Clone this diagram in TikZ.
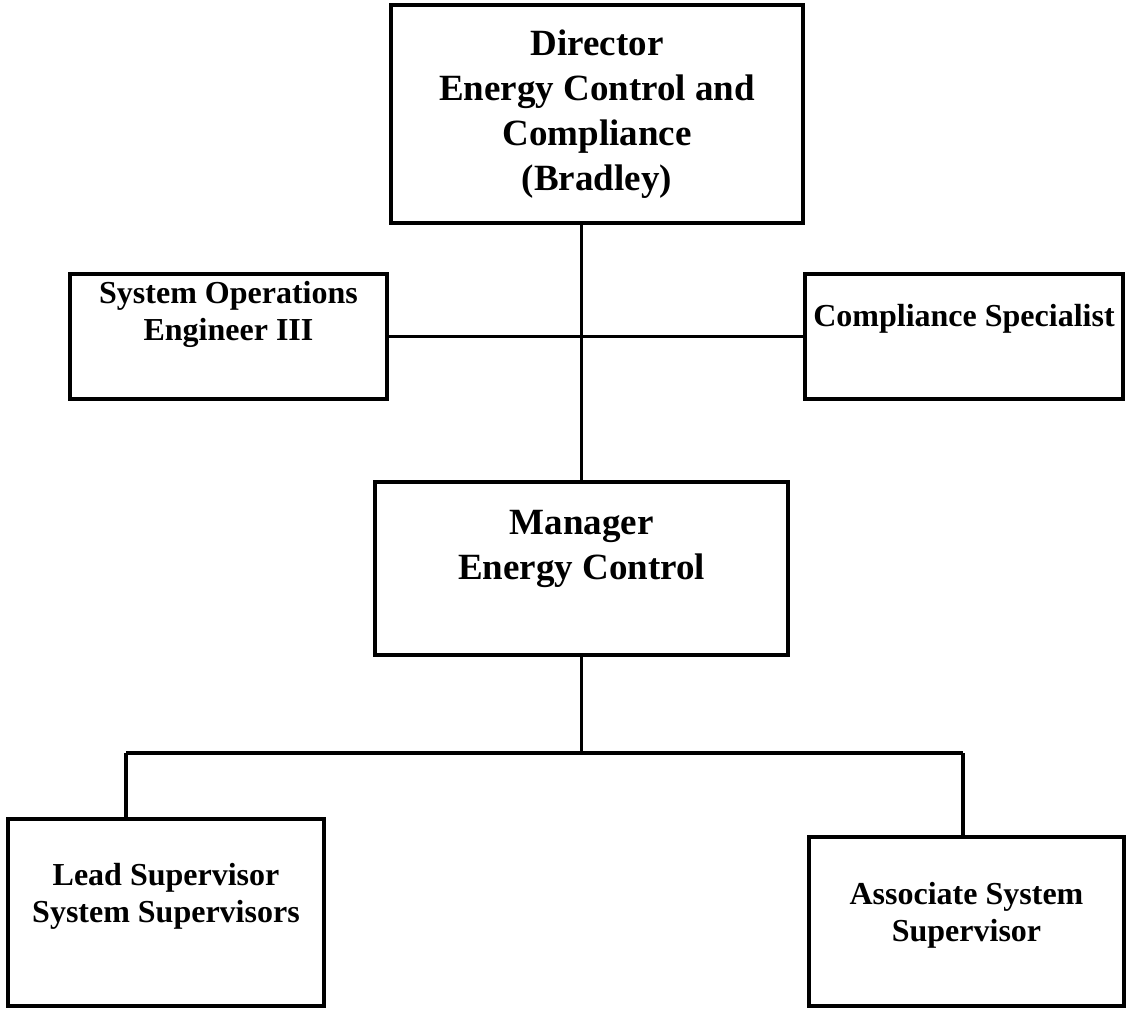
\documentclass[tikz,border=0pt]{standalone}
\usepackage{fontspec}
\setmainfont{Liberation Serif}
\usetikzlibrary{positioning}
\begin{document}
\begin{tikzpicture}[%
                x=1pt, y=-1pt,
                orgbox/.style={draw, line width=4pt, inner sep=0pt, outer sep=0pt},
                bigtxt/.style={align=center, inner sep=0pt, font=\bfseries\fontsize{37}{45}\selectfont},
                smalltxt/.style={align=center, inner sep=0pt, font=\bfseries\fontsize{32}{37.5}\selectfont},
                wire/.style={line width=3.2pt}
        ]
            \useasboundingbox (0,0) rectangle (1130,1010);
            \node [orgbox, minimum width=412pt, minimum height=218pt] (dir) at (597,114) {};
            \node [orgbox, minimum width=317pt, minimum height=125pt] (soe) at (228.5,336.5) {};
            \node [orgbox, minimum width=318pt, minimum height=125pt] (cs) at (964,336.5) {};
            \node [orgbox, minimum width=413pt, minimum height=173pt] (mgr) at (581.5,568.5) {};
            \node [orgbox, minimum width=316pt, minimum height=187pt] (lead) at (166,912.5) {};
            \node [orgbox, minimum width=315pt, minimum height=169pt] (asc) at (966.5,921.5) {};
            \node [bigtxt, below=25pt of dir.north] (dirtxt) {Director\\Energy Control and\\Compliance\\(Bradley)};
            \node [smalltxt, below=7pt of soe.north] (soetxt) {System Operations\\Engineer III};
            \node [smalltxt, below=30pt of cs.north] (cstxt) {Compliance Specialist};
            \node [bigtxt, below=28pt of mgr.north] (mgrtxt) {Manager\\Energy Control};
            \node [smalltxt, below=44pt of lead.north] (leadtxt) {Lead Supervisor\\System Supervisors};
            \node [smalltxt, below=45pt of asc.north] (asctxt) {Associate System\\Supervisor};
            \coordinate (lbus) at (126,753);
            \coordinate (rbus) at (963,753);
            \draw [wire] (mgr.north |- dir.south) -- (mgr.north);
            \draw [wire] (soe.east) -- (cs.west);
            \draw [wire] (mgr.south) -- (mgr.south |- lbus);
            \draw [wire] (lbus) -- (rbus);
            \draw [wire] (lbus) -- (lbus |- lead.north);
            \draw [wire] (rbus) -- (rbus |- asc.north);
        \end{tikzpicture}
\end{document}
